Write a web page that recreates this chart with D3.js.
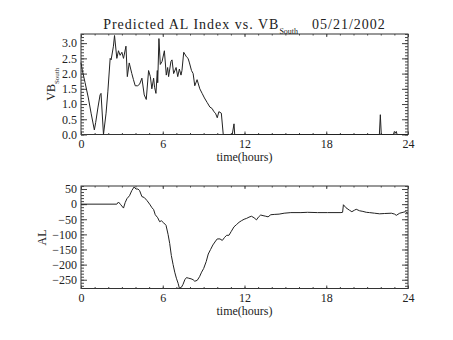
<!DOCTYPE html>
<html>
<head>
<meta charset="utf-8">
<script src="https://cdn.jsdelivr.net/npm/d3@7"></script>
<style>
  body { margin: 0; background: #fff; }
  text { font-family: "Liberation Serif", "DejaVu Serif", serif; fill: #222; }
</style>
</head>
<body>
<div id="chart"></div>
<script>
// VB_South readings [hours, value]
var vb_time = [0, 0.1, 0.3, 0.54, 0.74, 0.98, 1.08, 1.25, 1.4, 1.47, 1.65, 1.84, 1.97, 2.14, 2.21, 2.38, 2.46, 2.63, 2.75, 2.87, 3.0, 3.12, 3.3, 3.4, 3.54, 3.73, 3.85, 3.98, 4.15, 4.3, 4.47, 4.64, 4.79, 4.96, 5.09, 5.2, 5.33, 5.4, 5.5, 5.6, 5.63, 5.72, 5.82, 5.95, 6.12, 6.26, 6.36, 6.43, 6.6, 6.68, 6.8, 6.98, 7.1, 7.22, 7.34, 7.41, 7.54, 7.74, 7.86, 7.96, 8.11, 8.23, 8.35, 8.52, 8.72, 8.89, 9.06, 9.26, 9.46, 9.63, 9.75, 9.87, 10.0, 10.12, 10.3, 10.44, 11.1, 11.23, 11.28, 21.9, 21.97, 22.04, 22.93, 23.0, 23.07, 23.14, 23.2, 24];
var vb_value = [2.36, 2.1, 1.7, 1.2, 0.7, 0.15, 0.4, 0.9, 1.3, 1.35, 0.0, 0.7, 1.4, 2.5, 2.45, 2.9, 3.25, 2.5, 2.75, 2.6, 2.7, 2.5, 2.9, 1.9, 2.35, 2.0, 1.8, 1.6, 1.6, 1.65, 1.85, 1.3, 1.15, 2.1, 1.9, 1.5, 1.85, 1.55, 1.35, 2.1, 1.7, 3.15, 2.3, 2.4, 2.75, 1.95, 2.2, 1.9, 2.4, 2.45, 2.0, 2.2, 1.9, 2.15, 1.95, 2.1, 2.7, 2.55, 2.5, 2.35, 2.1, 2.0, 1.6, 1.8, 1.5, 1.35, 1.2, 1.05, 0.9, 0.85, 0.75, 0.7, 0.55, 0.75, 0.7, 0.0, 0.0, 0.35, 0.0, 0.0, 0.65, 0.0, 0.0, 0.1, 0.05, 0.1, 0.0, 0.0];

// AL index readings [hours, nT]
var al_time = [0, 2.63, 2.75, 2.92, 3.12, 3.24, 3.37, 3.56, 3.73, 3.9, 4.03, 4.18, 4.3, 4.47, 4.64, 4.84, 5.04, 5.21, 5.33, 5.45, 5.63, 5.77, 5.9, 6.07, 6.24, 6.39, 6.51, 6.63, 6.76, 6.88, 7.0, 7.13, 7.22, 7.37, 7.49, 7.62, 7.74, 7.91, 8.08, 8.23, 8.35, 8.53, 8.7, 8.85, 9.0, 9.19, 9.34, 9.51, 9.68, 9.88, 10.0, 10.2, 10.37, 10.54, 10.69, 10.86, 11.03, 11.23, 11.43, 11.6, 11.77, 11.97, 12.16, 12.33, 12.51, 12.7, 12.88, 13.02, 13.19, 13.36, 13.56, 13.73, 13.93, 14.18, 14.54, 14.91, 15.4, 16.14, 16.63, 17.36, 18.1, 19.08, 19.2, 19.26, 19.45, 19.7, 19.88, 20.07, 20.2, 20.45, 20.69, 20.94, 21.18, 21.55, 21.92, 22.29, 22.78, 23.02, 23.14, 23.39, 23.64, 23.81, 24];
var al_value = [0, 0, 7, -2, -13, 5, 18, 28, 45, 57, 50, 50, 45, 25, 22, 12, 0, -12, -18, -35, -45, -58, -55, -62, -70, -100, -130, -170, -200, -225, -245, -262, -278, -275, -265, -250, -243, -245, -247, -250, -255, -252, -240, -225, -213, -190, -165, -150, -135, -122, -115, -115, -120, -110, -103, -103, -90, -75, -67, -60, -55, -50, -47, -43, -40, -45, -52, -43, -36, -38, -40, -42, -35, -34, -33, -30, -28, -28, -27, -28, -28, -28, -27, -2, -12, -20, -25, -20, -17, -22, -24, -27, -28, -30, -32, -31, -30, -33, -37, -30, -27, -25, -30];

var x_ticks = [0, 6, 12, 18, 24];
var vb_ticks = [0.0, 0.5, 1.0, 1.5, 2.0, 2.5, 3.0];
var al_ticks = [-250, -200, -150, -100, -50, 0, 50];

var vb_path = vb_time.map(function(t, i) { return {t: t, v: vb_value[i]} });
var al_path = al_time.map(function(t, i) { return {t: t, v: al_value[i]} });

var W = 453, H = 340;
var svg = d3.select("#chart").append("svg")
    .attr("width", W)
    .attr("height", H);

var left = 81, right = 408;

var x = d3.scaleLinear().domain([0, 24]).range([left, right]);

function panel(top, bottom, ydomain, yticks, yminor, yfmt, data) {
  var y = d3.scaleLinear().domain(ydomain).range([bottom, top]);
  var xminor = d3.range(0, 25, 1);

  // the box
  svg.append("rect")
    .attr("x", left).attr("y", top)
    .attr("width", right - left).attr("height", bottom - top)
    .attr("fill", "none").attr("stroke", "#333").attr("stroke-width", 1);

  // minor ticks all around
  var minors = [
    [d3.axisBottom(x).tickValues(xminor).tickSize(-1.5), "translate(0," + bottom + ")"],
    [d3.axisTop(x).tickValues(xminor).tickSize(-1.5), "translate(0," + top + ")"],
    [d3.axisLeft(y).tickValues(yminor).tickSize(-3), "translate(" + left + ",0)"],
    [d3.axisRight(y).tickValues(yminor).tickSize(-3), "translate(" + right + ",0)"]
  ];
  minors.forEach(function(m) {
    svg.append("g").attr("transform", m[1])
      .call(m[0].tickSizeOuter(0).tickFormat(""))
      .call(function(g) { g.select(".domain").remove() })
      .selectAll("line").attr("stroke", "#444");
  });

  // major ticks, labels only on left and bottom
  var gx = svg.append("g").attr("transform", "translate(0," + bottom + ")")
    .call(d3.axisBottom(x).tickValues(x_ticks).tickSize(-3).tickSizeOuter(0).tickPadding(5).tickFormat(d3.format("d")));
  svg.append("g").attr("transform", "translate(0," + top + ")")
    .call(d3.axisTop(x).tickValues(x_ticks).tickSize(-3).tickSizeOuter(0).tickFormat(""));
  var gy = svg.append("g").attr("transform", "translate(" + left + ",0)")
    .call(d3.axisLeft(y).tickValues(yticks).tickSize(-6).tickSizeOuter(0).tickPadding(4).tickFormat(yfmt));
  svg.append("g").attr("transform", "translate(" + right + ",0)")
    .call(d3.axisRight(y).tickValues(yticks).tickSize(-6).tickSizeOuter(0).tickFormat(""));

  svg.selectAll(".domain").remove();
  svg.selectAll(".tick line").attr("stroke", "#444");
  [gx, gy].forEach(function(g) {
    g.selectAll("text")
      .attr("font-family", "Liberation Serif")
      .attr("font-size", 12)
      .attr("fill", "#222");
  });

  // x title
  svg.append("text")
    .attr("x", (left + right) / 2).attr("y", bottom + 26)
    .attr("text-anchor", "middle")
    .attr("font-size", 12)
    .text("time(hours)");

  // the line
  svg.append("path")
    .datum(data)
    .attr("fill", "none")
    .attr("stroke", "#222")
    .attr("stroke-width", 1)
    .attr("d", d3.line()
      .x(function(d) { return x(d.t) })
      .y(function(d) { return y(Math.max(ydomain[0], d.v)) }));

  return y;
}

var y1 = panel(34, 134.5, [0, 3.3], vb_ticks, d3.range(0, 3.31, 0.1), d3.format(".1f"), vb_path);
var y2 = panel(186, 288.5, [-279, 60], al_ticks, d3.range(-270, 61, 10), d3.format("d"), al_path);

// title
var title = svg.append("text")
  .attr("x", (left + right) / 2).attr("y", 29)
  .attr("text-anchor", "middle")
  .attr("font-size", 14)
  .attr("letter-spacing", 1);
title.append("tspan").text("Predicted AL Index vs. VB");
title.append("tspan").attr("dy", 5).attr("font-size", 8).attr("letter-spacing", 0).attr("fill", "#222").text("South");
title.append("tspan").attr("dy", -5).attr("dx", 14).text("05/21/2002");

// y titles
var yl = svg.append("text")
  .attr("transform", "translate(55," + y1(1.65) + ") rotate(-90)")
  .attr("text-anchor", "middle")
  .attr("font-size", 12);
yl.append("tspan").text("VB");
yl.append("tspan").attr("dy", 4).attr("font-size", 7).attr("fill", "#222").text("South");

svg.append("text")
  .attr("transform", "translate(46," + y2(-110) + ") rotate(-90)")
  .attr("text-anchor", "middle")
  .attr("font-size", 12)
  .text("AL");
</script>
</body>
</html>
